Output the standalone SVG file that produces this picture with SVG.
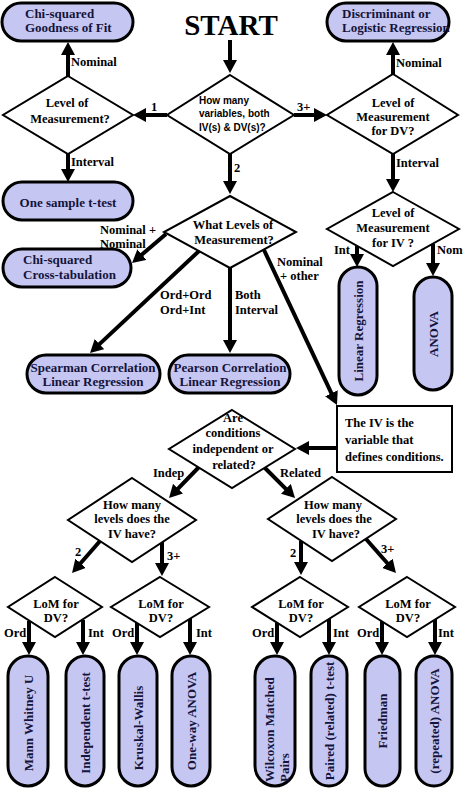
<svg xmlns="http://www.w3.org/2000/svg" width="474" height="791" viewBox="0 0 474 791">
<defs>
<marker id="ah" viewBox="0 0 13 14" refX="7" refY="7" markerWidth="13" markerHeight="14" markerUnits="userSpaceOnUse" orient="auto"><path d="M0,0 L13,7 L0,14 z" fill="#000"/></marker>
</defs>
<style>
.pill{fill:#c6c6f2;stroke:#000;stroke-width:3}
.dia{fill:#fff;stroke:#000;stroke-width:2}
.box{fill:#fff;stroke:#000;stroke-width:2}
.t{font-family:"Liberation Serif","Times New Roman",serif;font-weight:bold;font-size:12.5px;fill:#000}
.pt{font-family:"Liberation Serif","Times New Roman",serif;font-weight:bold;font-size:13px;fill:#14143c}
.s{font-family:"Liberation Sans",Arial,sans-serif;font-weight:bold;font-size:10px;fill:#000}
.big{font-family:"Liberation Serif","Times New Roman",serif;font-weight:bold;font-size:29px;fill:#000}
.c{text-anchor:middle}
.arr{stroke:#000;stroke-width:4;fill:none;marker-end:url(#ah)}
</style>
<rect width="474" height="791" fill="#fff"/>

<g id="connectors">
<line class="arr" x1="230" y1="40" x2="230" y2="67"/>
<line class="arr" x1="167" y1="115" x2="139" y2="115"/>
<line class="arr" x1="294" y1="115" x2="321" y2="115"/>
<line class="arr" x1="230" y1="154" x2="230" y2="188"/>
<line class="arr" x1="68" y1="76" x2="68" y2="48"/>
<line class="arr" x1="68" y1="154" x2="68" y2="176"/>
<line class="arr" x1="393" y1="74" x2="393" y2="48"/>
<line class="arr" x1="393" y1="154" x2="393" y2="186"/>
<line class="arr" x1="357" y1="246" x2="357" y2="261"/>
<line class="arr" x1="433" y1="244" x2="433" y2="270"/>
<line class="arr" x1="166" y1="234" x2="136.6" y2="259.1"/>
<line class="arr" x1="199" y1="251" x2="94.4" y2="348.9"/>
<line class="arr" x1="230" y1="268" x2="230" y2="347"/>
<line class="arr" x1="264" y1="250" x2="334.4" y2="399.6"/>
<line class="arr" x1="337" y1="448" x2="302" y2="448"/>
<line class="arr" x1="199" y1="467" x2="173.2" y2="493.7"/>
<line class="arr" x1="264" y1="467" x2="290.8" y2="493.8"/>
<line class="arr" x1="100" y1="541" x2="76" y2="568.5"/>
<line class="arr" x1="162" y1="542" x2="162" y2="570"/>
<line class="arr" x1="301" y1="541" x2="301" y2="569"/>
<line class="arr" x1="366" y1="539" x2="392" y2="568.5"/>
<line class="arr" x1="29" y1="621" x2="29" y2="649"/>
<line class="arr" x1="83" y1="620" x2="83" y2="649"/>
<line class="arr" x1="137" y1="623" x2="137" y2="649"/>
<line class="arr" x1="190" y1="618" x2="190" y2="649"/>
<line class="arr" x1="277" y1="623" x2="277" y2="649"/>
<line class="arr" x1="329" y1="619" x2="329" y2="649"/>
<line class="arr" x1="382" y1="621" x2="382" y2="649"/>
<line class="arr" x1="435" y1="619" x2="435" y2="649"/>
</g>

<g id="labels">
<text class="t" x="71" y="66">Nominal</text>
<text class="t" x="71" y="166">Interval</text>
<text class="t" x="151" y="111">1</text>
<text class="t" x="234" y="172">2</text>
<text class="t" x="297" y="111">3+</text>
<text class="t" x="396" y="67">Nominal</text>
<text class="t" x="396" y="167">Interval</text>
<text class="t" x="334" y="254">Int</text>
<text class="t" x="437" y="254">Nom</text>
<text class="t" x="100" y="234">Nominal +</text>
<text class="t" x="100" y="248">Nominal</text>
<text class="t" x="160" y="299">Ord+Ord</text>
<text class="t" x="160" y="314">Ord+Int</text>
<text class="t" x="235" y="299">Both</text>
<text class="t" x="235" y="314">Interval</text>
<text class="t" x="277" y="266">Nominal</text>
<text class="t" x="280" y="280">+ other</text>
<text class="t" x="153" y="477">Indep</text>
<text class="t" x="280" y="477">Related</text>
<text class="t" x="75" y="556">2</text>
<text class="t" x="167" y="560">3+</text>
<text class="t" x="290" y="557">2</text>
<text class="t" x="381" y="553">3+</text>
<text class="t" x="4" y="637">Ord</text>
<text class="t" x="88" y="637">Int</text>
<text class="t" x="112" y="637">Ord</text>
<text class="t" x="196" y="637">Int</text>
<text class="t" x="252" y="637">Ord</text>
<text class="t" x="333" y="637">Int</text>
<text class="t" x="357" y="637">Ord</text>
<text class="t" x="438" y="637">Int</text>
</g>

<g id="start"><text class="big c" x="231" y="35">START</text></g>

<g id="q-how-many-vars">
<polygon class="dia" points="230,75 294,115 230,154 167,115"/>
<text class="s" x="199" y="104">How many</text>
<text class="s" x="199" y="117">variables, both</text>
<text class="s" x="199" y="131">IV(s) &amp; DV(s)?</text>
</g>

<g id="q-lom-1">
<polygon class="dia" points="68,76 133,115 68,154 3,115"/>
<text class="t c" x="67" y="107">Level of</text>
<text class="t c" x="70" y="123">Measurement?</text>
</g>

<g id="chi-gof">
<rect class="pill" x="2" y="3" width="131" height="38" rx="19"/>
<text class="pt" x="25" y="18">Chi-squared</text>
<text class="pt" x="25" y="32">Goodness of Fit</text>
</g>

<g id="one-sample">
<rect class="pill" x="3" y="182" width="130" height="38" rx="19"/>
<text class="pt c" x="68" y="207">One sample t-test</text>
</g>

<g id="q-lom-dv">
<polygon class="dia" points="393,74 458,115 393,154 327,115"/>
<text class="t c" x="393" y="107">Level of</text>
<text class="t c" x="393" y="121">Measurement</text>
<text class="t c" x="393" y="135">for DV?</text>
</g>

<g id="discriminant">
<rect class="pill" x="327" y="3" width="122" height="38" rx="19"/>
<text class="pt" x="342" y="18">Discriminant or</text>
<text class="pt" x="342" y="32">Logistic Regression</text>
</g>

<g id="q-lom-iv">
<polygon class="dia" points="393,192 459,229 393,266 327,229"/>
<text class="t c" x="393" y="217">Level of</text>
<text class="t c" x="393" y="232">Measurement</text>
<text class="t c" x="393" y="247">for IV ?</text>
</g>

<g id="linear-regression">
<rect class="pill" x="339" y="267" width="38" height="128" rx="19"/>
<text class="pt c" transform="translate(358,331) rotate(-90)" y="4.5">Linear Regression</text>
</g>

<g id="anova">
<rect class="pill" x="414" y="277" width="38" height="113" rx="19"/>
<text class="pt c" transform="translate(433,334) rotate(-90)" y="4.5">ANOVA</text>
</g>

<g id="q-what-levels">
<polygon class="dia" points="230,196 296,232 230,268 164,232"/>
<text class="t c" x="233" y="229">What Levels of</text>
<text class="t c" x="234" y="244">Measurement?</text>
</g>

<g id="chi-cross">
<rect class="pill" x="3" y="249" width="128" height="38" rx="19"/>
<text class="pt" x="23" y="264">Chi-squared</text>
<text class="pt" x="23" y="279">Cross-tabulation</text>
</g>

<g id="spearman">
<rect class="pill" x="27" y="355" width="133" height="38" rx="19"/>
<text class="pt c" x="93" y="372">Spearman Correlation</text>
<text class="pt c" x="93" y="386">Linear Regression</text>
</g>

<g id="pearson">
<rect class="pill" x="169" y="355" width="121" height="38" rx="19"/>
<text class="pt c" x="230" y="372">Pearson Correlation</text>
<text class="pt c" x="230" y="386">Linear Regression</text>
</g>

<g id="iv-note">
<rect class="box" x="337" y="406" width="115" height="66"/>
<text class="t" x="345" y="427">The IV is the</text>
<text class="t" x="345" y="444">variable that</text>
<text class="t" x="345" y="461">defines conditions.</text>
</g>

<g id="q-conditions">
<polygon class="dia" points="232,410 295,449 232,488 169,449"/>
<text class="t c" x="233" y="422">Are</text>
<text class="t c" x="233" y="437">conditions</text>
<text class="t c" x="233" y="453">independent or</text>
<text class="t c" x="234" y="469">related?</text>
</g>

<g id="q-levels-indep">
<polygon class="dia" points="132,478 196,520 132,562 68,520"/>
<text class="t c" x="132" y="509">How many</text>
<text class="t c" x="132" y="523">levels does the</text>
<text class="t c" x="132" y="538">IV have?</text>
</g>

<g id="q-levels-related">
<polygon class="dia" points="332,477 396,519 332,561 268,519"/>
<text class="t c" x="333" y="509">How many</text>
<text class="t c" x="334" y="523">levels does the</text>
<text class="t c" x="336" y="538">IV have?</text>
</g>

<g id="lom-1">
<polygon class="dia" points="55,577 102,607 55,637 8,607"/>
<text class="t c" x="56" y="608">LoM for</text>
<text class="t c" x="56" y="622">DV?</text>
</g>
<g id="lom-2">
<polygon class="dia" points="160,577 209,607 160,637 111,607"/>
<text class="t c" x="161" y="608">LoM for</text>
<text class="t c" x="161" y="622">DV?</text>
</g>
<g id="lom-3">
<polygon class="dia" points="300,577 348,607 300,637 252,607"/>
<text class="t c" x="301" y="608">LoM for</text>
<text class="t c" x="301" y="622">DV?</text>
</g>
<g id="lom-4">
<polygon class="dia" points="407,577 455,607 407,637 359,607"/>
<text class="t c" x="408" y="608">LoM for</text>
<text class="t c" x="408" y="622">DV?</text>
</g>

<g id="mann-whitney">
<rect class="pill" x="8" y="656" width="40" height="130" rx="20"/>
<text class="pt c" transform="translate(28,723) rotate(-90)" y="4.5">Mann Whitney U</text>
</g>
<g id="independent-t">
<rect class="pill" x="66" y="656" width="38" height="130" rx="19"/>
<text class="pt c" transform="translate(85,723) rotate(-90)" y="4.5">Independent t-test</text>
</g>
<g id="kruskal">
<rect class="pill" x="119" y="656" width="38" height="130" rx="19"/>
<text class="pt c" transform="translate(138,728) rotate(-90)" y="4.5">Kruskal-Wallis</text>
</g>
<g id="oneway-anova">
<rect class="pill" x="172" y="656" width="38" height="130" rx="19"/>
<text class="pt c" transform="translate(191,721) rotate(-90)" y="4.5">One-way ANOVA</text>
</g>
<g id="wilcoxon">
<rect class="pill" x="255" y="656" width="40" height="130" rx="20"/>
<text class="pt" transform="translate(275,782) rotate(-90)" y="-1.5">Wilcoxon Matched</text>
<text class="pt" transform="translate(275,782) rotate(-90)" y="13.5">Pairs</text>
</g>
<g id="paired-t">
<rect class="pill" x="311" y="656" width="36" height="130" rx="18"/>
<text class="pt c" transform="translate(329,721) rotate(-90)" y="4.5">Paired (related) t-test</text>
</g>
<g id="friedman">
<rect class="pill" x="365" y="656" width="35" height="130" rx="17.5"/>
<text class="pt c" transform="translate(382,721) rotate(-90)" y="4.5">Friedman</text>
</g>
<g id="repeated-anova">
<rect class="pill" x="416" y="656" width="36" height="130" rx="18"/>
<text class="pt c" transform="translate(434,721) rotate(-90)" y="4.5">(repeated) ANOVA</text>
</g>
</svg>
